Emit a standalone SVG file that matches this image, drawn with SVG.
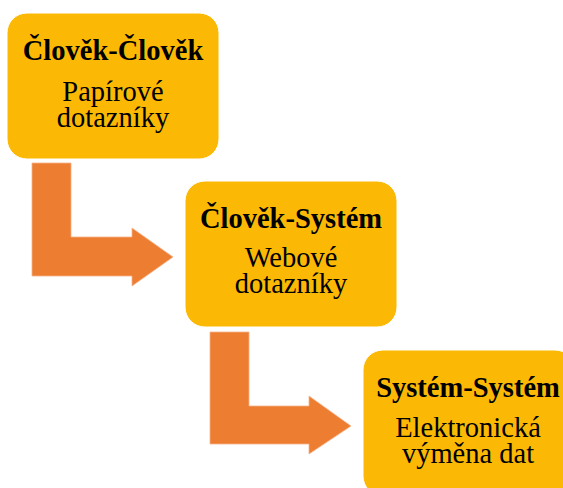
<svg xmlns="http://www.w3.org/2000/svg" width="563" height="488" viewBox="0 0 563 488">
  <style>
    .box { fill: #FBB905; stroke: #FFFFFF; stroke-width: 1; }
    .arrow { fill: #ED7D31; stroke: #F6B38A; stroke-width: 0.8; }
    text { font-family: "Liberation Serif", "Times New Roman", serif; fill: #000000; text-anchor: middle; }
    .title { font-size: 28.5px; font-weight: bold; }
    .sub { font-size: 28.5px; }
  </style>
  <rect width="563" height="488" fill="#FFFFFF"/>

  <!-- bent arrows between the levels -->
  <g id="connectors">
    <path class="arrow" d="M32,163 H71 V237 H132 V228 L173,257 L132,286 V276 H32 Z"/>
    <path class="arrow" d="M210,332 H249 V406 H309 V396 L351,426 L309,454 V444 H210 Z"/>
  </g>

  <g id="node-clovek-clovek">
    <rect class="box" x="7" y="13" width="212" height="146" rx="20" ry="20"/>
    <text class="title" x="113" y="60">Člověk-Člověk</text>
    <text class="sub" x="113" y="101">Papírové</text>
    <text class="sub" x="113" y="127">dotazníky</text>
  </g>

  <g id="node-clovek-system">
    <rect class="box" x="185" y="181" width="212" height="146" rx="20" ry="20"/>
    <text class="title" x="291" y="228">Člověk-Systém</text>
    <text class="sub" x="291" y="267">Webové</text>
    <text class="sub" x="291" y="293">dotazníky</text>
  </g>

  <g id="node-system-system">
    <rect class="box" x="363" y="350" width="212" height="146" rx="20" ry="20"/>
    <text class="title" x="468" y="397">Systém-Systém</text>
    <text class="sub" x="468" y="437">Elektronická</text>
    <text class="sub" x="468" y="463">výměna dat</text>
  </g>
</svg>
